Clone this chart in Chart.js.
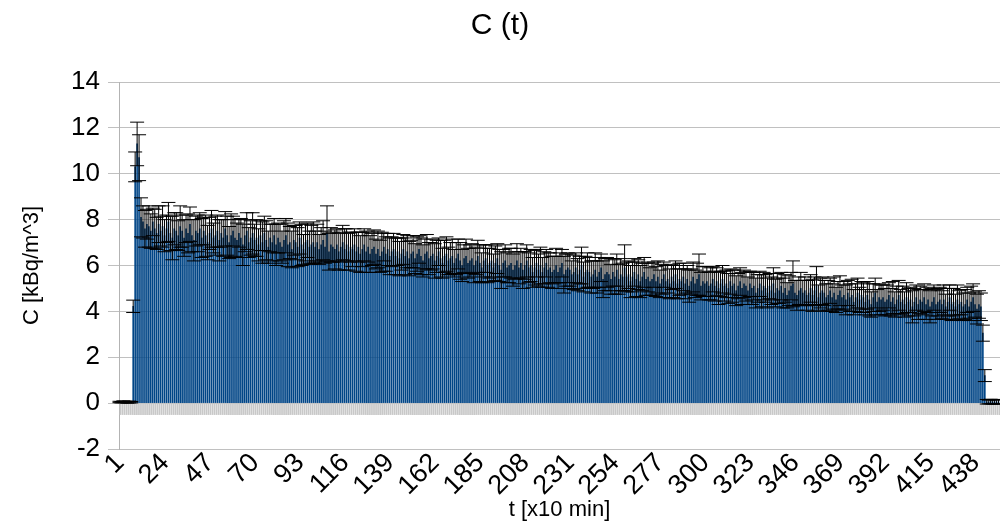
<!DOCTYPE html>
<html>
<head>
<meta charset="utf-8">
<title>C (t)</title>
<script src="https://cdn.jsdelivr.net/npm/chart.js@4.4.1/dist/chart.umd.min.js"></script>
<style>
  html, body { margin: 0; padding: 0; background: #fff; }
  canvas { display: block; }
</style>
</head>
<body>
<canvas id="myChart" width="1000" height="524"></canvas>
<script>
// concentration per time step (kBq/m^3)
var concentration = [
  0.05, 0.04, 0.06, 0.05, 0.03, 0.05, 0.04, 4.22, 10.3, 11.3,
  10.7, 8.1, 7.9, 7.6, 7.8, 7.7, 7.5, 7.9, 7.6, 7.4,
  7.8, 7.5, 7.7, 7.3, 7.6, 7.9, 7.4, 7.2, 7.6, 7.5,
  7.3, 7.7, 7.5, 7.2, 7.6, 7.4, 7.8, 7.3, 7.1, 7.5,
  7.4, 7.6, 7.2, 7.5, 7.3, 7.0, 7.4, 7.6, 7.2, 7.3,
  7.5, 7.1, 7.4, 7.2, 7.6, 7.3, 7.0, 7.3, 7.5, 7.2,
  7.1, 7.4, 7.2, 6.9, 7.3, 7.5, 7.0, 7.2, 7.4, 7.1,
  7.2, 6.9, 7.3, 7.0, 7.4, 7.1, 6.8, 7.2, 7.0, 7.3,
  6.9, 7.2, 7.0, 6.8, 7.1, 7.3, 6.9, 7.0, 6.7, 7.1,
  7.0, 6.8, 7.2, 6.9, 6.7, 7.0, 7.1, 6.8, 6.9, 7.0,
  6.8, 7.0, 6.7, 6.9, 7.1, 6.8, 7.4, 6.6, 6.9, 6.8,
  6.7, 6.9, 6.6, 6.8, 7.0, 6.7, 6.9, 6.6, 6.8, 6.7,
  6.9, 6.6, 6.8, 6.5, 6.7, 6.9, 6.6, 6.8, 6.5, 6.7,
  6.8, 6.5, 6.7, 6.4, 6.6, 6.8, 6.5, 6.7, 6.4, 6.6,
  6.7, 6.4, 6.6, 6.3, 6.5, 6.7, 6.4, 6.6, 6.3, 6.5,
  6.6, 6.3, 6.5, 6.7, 6.4, 6.2, 6.5, 6.6, 6.3, 6.4,
  6.5, 6.2, 6.4, 6.6, 6.3, 6.1, 6.4, 6.5, 6.2, 6.3,
  6.4, 6.1, 6.3, 6.5, 6.2, 6.0, 6.3, 6.4, 6.1, 6.2,
  6.3, 6.0, 6.2, 6.4, 6.1, 5.9, 6.2, 6.3, 6.0, 6.1,
  6.2, 5.9, 6.1, 6.3, 6.0, 5.8, 6.1, 6.2, 5.9, 6.0,
  6.1, 5.8, 6.0, 6.2, 5.9, 6.1, 5.8, 6.0, 6.2, 5.9,
  6.0, 5.7, 5.9, 6.1, 5.8, 6.0, 5.7, 5.9, 6.1, 5.8,
  5.9, 5.7, 5.8, 6.0, 5.7, 5.9, 6.1, 5.6, 5.8, 5.9,
  5.8, 5.6, 5.7, 5.9, 5.6, 5.8, 6.0, 5.5, 5.7, 5.8,
  5.7, 5.5, 5.6, 5.8, 5.5, 5.7, 5.9, 5.4, 5.6, 5.7,
  5.6, 5.4, 5.7, 5.5, 5.8, 5.4, 5.6, 5.5, 5.9, 5.5,
  5.6, 5.3, 5.5, 5.7, 5.4, 5.6, 5.3, 5.5, 5.7, 5.4,
  5.5, 5.3, 5.4, 5.6, 5.3, 5.5, 5.2, 5.4, 5.6, 5.3,
  5.4, 5.2, 5.5, 5.3, 5.6, 5.2, 5.4, 5.3, 5.5, 5.2,
  5.4, 5.1, 5.3, 5.5, 5.2, 5.4, 5.6, 5.1, 5.3, 5.2,
  5.3, 5.1, 5.2, 5.4, 5.1, 5.3, 5.0, 5.2, 5.4, 5.1,
  5.2, 5.0, 5.3, 5.1, 5.2, 4.9, 5.1, 5.3, 5.0, 5.2,
  5.1, 4.9, 5.2, 5.0, 5.1, 4.8, 5.0, 5.2, 4.9, 5.1,
  5.0, 4.8, 5.1, 4.9, 5.2, 4.8, 5.0, 4.9, 5.1, 4.8,
  5.0, 4.7, 4.9, 5.1, 5.2, 4.8, 4.7, 4.9, 5.0, 4.8,
  4.9, 4.7, 4.8, 5.0, 4.7, 4.9, 5.1, 4.6, 4.8, 4.9,
  4.8, 4.6, 4.7, 4.9, 4.6, 4.8, 4.5, 4.7, 4.9, 4.6,
  4.7, 4.5, 4.8, 4.6, 4.7, 4.4, 4.6, 4.8, 4.5, 4.7,
  4.6, 4.4, 4.7, 4.5, 4.3, 4.6, 4.8, 4.4, 4.6, 4.5,
  4.6, 4.4, 4.5, 4.7, 4.4, 4.6, 4.3, 4.5, 4.7, 4.4,
  4.5, 4.3, 4.6, 4.4, 4.5, 4.2, 4.4, 4.6, 4.3, 4.5,
  4.4, 4.6, 4.3, 4.5, 4.2, 4.4, 4.6, 4.3, 4.4, 4.5,
  4.3, 4.5, 4.2, 4.4, 4.6, 4.3, 4.4, 4.2, 4.5, 4.3,
  4.4, 4.2, 4.3, 4.5, 4.2, 4.4, 4.6, 4.3, 4.1, 4.3,
  4.2, 3.05, 1.2, 0.06, 0.05, 0.07, 0.05, 0.06, 0.05, 0.06
];

// +/- error of each value
var errors = [
  0.03, 0.03, 0.04, 0.03, 0.03, 0.04, 0.03, 0.27, 0.65, 0.95,
  1.0, 0.85, 0.7, 0.8, 0.65, 0.9, 0.75, 0.6, 0.85, 0.7,
  0.8, 0.65, 0.9, 0.7, 0.6, 0.85, 0.75, 0.95, 0.7, 0.8,
  0.65, 0.9, 0.7, 0.8, 0.6, 0.85, 0.75, 0.7, 0.9, 0.65,
  0.8, 0.7, 0.85, 0.6, 0.9, 0.75, 0.7, 0.8, 0.65, 0.85,
  0.7, 0.9, 0.6, 0.8, 0.75, 0.85, 0.7, 0.95, 0.65, 0.8,
  0.75, 0.6, 0.85, 0.9, 0.7, 0.8, 0.65, 0.75, 0.9, 0.7,
  0.8, 0.7, 0.65, 0.9, 0.75, 0.85, 0.7, 0.6, 0.8, 0.75,
  0.9, 0.65, 0.8, 0.7, 0.85, 0.75, 0.95, 0.7, 0.8, 0.65,
  0.75, 0.85, 0.7, 0.9, 0.65, 0.8, 0.75, 0.7, 0.85, 0.9,
  0.7, 0.8, 0.65, 0.75, 0.85, 0.7, 1.2, 0.8, 0.75, 0.65,
  0.85, 0.7, 0.8, 0.65, 0.75, 0.9, 0.7, 0.8, 0.65, 0.75,
  0.7, 0.85, 0.65, 0.8, 0.75, 0.7, 0.9, 0.65, 0.8, 0.7,
  0.75, 0.65, 0.8, 0.7, 0.85, 0.6, 0.75, 0.7, 0.8, 0.65,
  0.7, 0.8, 0.6, 0.75, 0.7, 0.65, 0.8, 0.7, 0.75, 0.6,
  0.7, 0.65, 0.75, 0.6, 0.8, 0.7, 0.65, 0.75, 0.7, 0.6,
  0.65, 0.75, 0.7, 0.6, 0.8, 0.65, 0.7, 0.75, 0.6, 0.7,
  0.75, 0.6, 0.7, 0.65, 0.8, 0.7, 0.6, 0.75, 0.65, 0.7,
  0.65, 0.75, 0.6, 0.7, 0.8, 0.65, 0.7, 0.6, 0.75, 0.65,
  0.7, 0.6, 0.75, 0.65, 0.7, 0.8, 0.6, 0.7, 0.65, 0.75,
  0.65, 0.7, 0.6, 0.75, 0.7, 0.65, 0.8, 0.6, 0.7, 0.65,
  0.7, 0.65, 0.75, 0.6, 0.7, 0.8, 0.65, 0.7, 0.6, 0.75,
  0.65, 0.7, 0.6, 0.75, 0.7, 0.65, 0.6, 0.8, 0.7, 0.65,
  0.7, 0.6, 0.75, 0.65, 0.7, 0.6, 0.8, 0.65, 0.7, 0.75,
  0.65, 0.7, 0.6, 0.75, 0.7, 0.65, 0.6, 0.8, 0.7, 0.65,
  0.7, 0.65, 0.6, 0.75, 0.7, 0.65, 0.7, 0.6, 1.0, 0.65,
  0.6, 0.7, 0.65, 0.6, 0.75, 0.65, 0.7, 0.6, 0.65, 0.7,
  0.65, 0.6, 0.7, 0.55, 0.65, 0.7, 0.6, 0.65, 0.55, 0.7,
  0.6, 0.65, 0.55, 0.7, 0.6, 0.65, 0.7, 0.55, 0.6, 0.65,
  0.6, 0.7, 0.55, 0.65, 0.6, 0.7, 0.9, 0.6, 0.65, 0.55,
  0.65, 0.6, 0.7, 0.55, 0.65, 0.6, 0.7, 0.55, 0.6, 0.65,
  0.6, 0.65, 0.55, 0.7, 0.6, 0.65, 0.55, 0.6, 0.7, 0.6,
  0.65, 0.6, 0.55, 0.7, 0.6, 0.65, 0.6, 0.55, 0.7, 0.6,
  0.6, 0.65, 0.55, 0.6, 0.7, 0.6, 0.65, 0.55, 0.6, 0.65,
  0.6, 0.55, 0.65, 0.6, 1.0, 0.55, 0.65, 0.6, 0.7, 0.55,
  0.6, 0.65, 0.55, 0.6, 0.7, 0.6, 0.85, 0.55, 0.65, 0.6,
  0.55, 0.6, 0.65, 0.55, 0.6, 0.7, 0.55, 0.6, 0.65, 0.55,
  0.6, 0.65, 0.55, 0.6, 0.7, 0.55, 0.6, 0.65, 0.55, 0.6,
  0.65, 0.55, 0.6, 0.7, 0.55, 0.6, 0.65, 0.55, 0.6, 0.65,
  0.55, 0.6, 0.65, 0.55, 0.6, 0.7, 0.55, 0.6, 0.65, 0.55,
  0.6, 0.55, 0.65, 0.6, 0.55, 0.7, 0.6, 0.55, 0.65, 0.6,
  0.55, 0.6, 0.65, 0.55, 0.7, 0.6, 0.55, 0.65, 0.6, 0.55,
  0.6, 0.65, 0.55, 0.6, 0.55, 0.7, 0.6, 0.55, 0.65, 0.6,
  0.55, 0.6, 0.65, 0.55, 0.6, 0.7, 0.6, 0.55, 0.65, 0.6,
  0.6, 0.35, 0.26, 0.1, 0.08, 0.1, 0.09, 0.1, 0.08, 0.1
];

// grey floor series under the zero line
var floorValue = -0.5;

var tickLabels = ['1', '24', '47', '70', '93', '116', '139', '162', '185', '208',
  '231', '254', '277', '300', '323', '346', '369', '392', '415', '438'];

var categories = concentration.map(function (v, i) { return String(i + 1); });
var floorSeries = concentration.map(function () { return floorValue; });

Chart.defaults.font.family = '"Liberation Sans", Arial, sans-serif';
Chart.defaults.color = '#000';

// draws the +/- error bars with the y scale
var errorBars = {
    id: 'errorBars',
    afterDatasetsDraw: function (chart) {
        var ctx = chart.ctx;
        var y = chart.scales.y;
        var meta = chart.getDatasetMeta(0);
        ctx.save();
        ctx.strokeStyle = '#000';
        ctx.lineWidth = 1;
        meta.data.forEach(function (bar, i) {
            var top = y.getPixelForValue(concentration[i] + errors[i]);
            var bot = y.getPixelForValue(concentration[i] - errors[i]);
            ctx.beginPath();
            ctx.moveTo(bar.x, top);
            ctx.lineTo(bar.x, bot);
            ctx.moveTo(bar.x - 7, top);
            ctx.lineTo(bar.x + 7, top);
            ctx.moveTo(bar.x - 7, bot);
            ctx.lineTo(bar.x + 7, bot);
            ctx.stroke();
        });
        ctx.restore();
    }
};

var ctx = document.getElementById('myChart').getContext('2d');
var myChart = new Chart(ctx, {
    type: 'bar',
    data: {
        labels: categories,
        datasets: [{
            label: 'C',
            data: concentration,
            backgroundColor: '#004586',
            borderWidth: 0,
            categoryPercentage: 1,
            barPercentage: 1
        }, {
            label: 'floor',
            data: floorSeries,
            backgroundColor: '#c8c8c8',
            borderWidth: 0,
            categoryPercentage: 1,
            barPercentage: 1
        }]
    },
    options: {
        responsive: false,
        animation: false,
        layout: { autoPadding: false, padding: 0 },
        plugins: {
            legend: { display: false },
            tooltip: { enabled: false },
            title: {
                display: true,
                text: 'C (t)',
                font: { size: 30, weight: 'normal' },
                padding: { top: 8, bottom: 38 }
            }
        },
        scales: {
            x: {
                grid: { display: false },
                border: { display: false },
                ticks: {
                    autoSkip: false,
                    minRotation: 45,
                    maxRotation: 45,
                    padding: -8,
                    font: { size: 27, lineHeight: 1 },
                    callback: function (value, index) {
                        var label = categories[index];
                        return tickLabels.indexOf(label) >= 0 ? label : '';
                    }
                },
                title: {
                    display: true,
                    text: 't [x10 min]',
                    font: { size: 22 },
                    padding: { top: 0, bottom: 1 }
                },
                afterFit: function (scale) {
                    scale.height = 75;
                    scale.paddingLeft = 0;
                    scale.paddingRight = 0;
                }
            },
            y: {
                min: -2,
                max: 14,
                ticks: {
                    stepSize: 2,
                    padding: 8,
                    font: { size: 26 }
                },
                grid: { color: '#c0c0c0', tickLength: 11 },
                border: { color: '#b3b3b3' },
                title: {
                    display: true,
                    text: 'C [kBq/m^3]',
                    font: { size: 22 },
                    padding: { top: 19, bottom: 0 }
                },
                afterFit: function (scale) {
                    scale.width = 119;
                }
            }
        }
    },
    plugins: [errorBars]
});
</script>
</body>
</html>
